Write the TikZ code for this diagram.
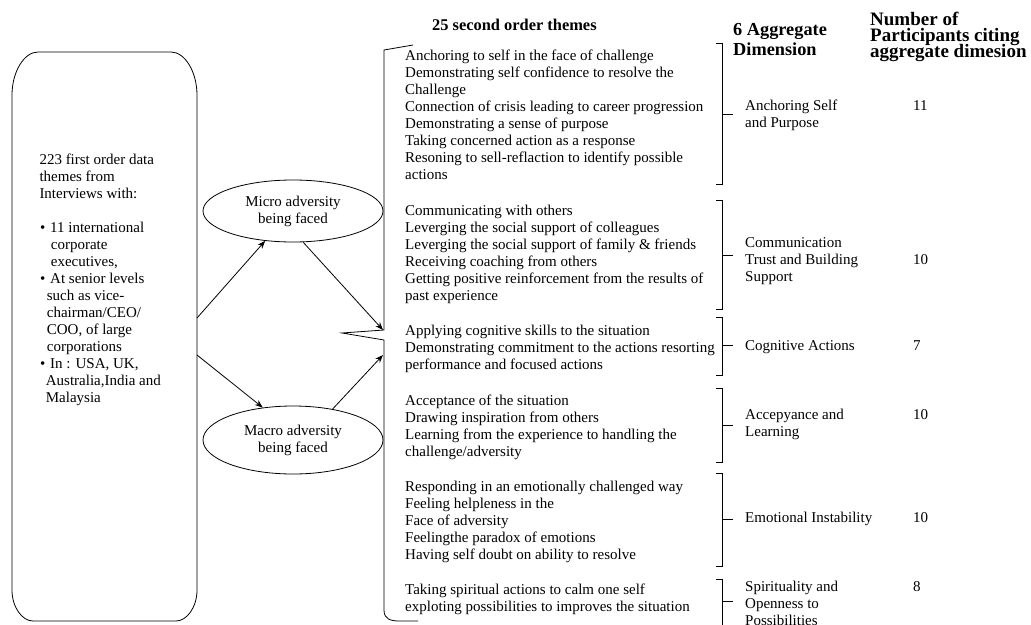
\documentclass[tikz,border=0pt]{standalone}
\usepackage{fontspec}
\setmainfont{Liberation Serif}
\usetikzlibrary{shapes.geometric,arrows.meta}
\newcommand\rightbrk[3]{\draw[line] (716,#1) -- (722,#1) -- (722,#3) -- (716,#3); \draw[line] (722,#2) -- (733,#2);}
\tikzset{
  line/.style={line width=0.8pt},
  body/.style={font=\fontsize{15}{17}\selectfont},
  txt/.style={body, anchor=north west, align=left, inner sep=0pt},
  hdr/.style={anchor=north west, align=left, inner sep=0pt},
  arr/.style={line, -{Stealth[length=8pt,width=6pt]}},
  oval/.style={draw, line, ellipse, minimum width=180pt, minimum height=62pt, inner sep=0pt, body, align=center},
}
\begin{document}
\lineskiplimit=-100pt
\begin{tikzpicture}[x=1pt,y=-1pt]
\useasboundingbox (0,0) rectangle (1031,624);
% left box
\node[minimum width=185pt, minimum height=569pt, inner sep=0pt, outer sep=0pt] (lb) at (104.5,336.5) {};
\draw[line] (lb.north west) ++(0,42) -- (12,590) .. controls (12,607) and (22,621) .. (33,621) -- (176,621) .. controls (187,621) and (197,607) .. (197,590) -- (197,95) .. controls (197,72) and (185,52) .. (171,52) -- (38,52) .. controls (24,52) and (12,72) .. (12,95) -- cycle;
\node[txt] (lbt) at (39.3,152.4) {\strut 223 first order data\\
themes from\\
Interviews with:\\[17pt]
\makebox[10.7pt][l]{\hspace{0.7pt}\textbullet}11 international\\
\hspace*{11.4pt}corporate\\
\hspace*{11.4pt}executives,\\
\makebox[10.7pt][l]{\hspace{0.7pt}\textbullet}At senior levels\\
\hspace*{7.4pt}such as vice-\\
\hspace*{7.4pt}chairman/CEO/\\
\hspace*{7.4pt}COO, of large\\
\hspace*{7.4pt}corporations\\
\makebox[10.7pt][l]{\hspace{0.7pt}\textbullet}In : USA, UK,\\
\hspace*{6.4pt}Australia,India and\\
\hspace*{6.4pt}Malaysia};
% ellipses
\node[oval] (micro) at (293,211) {Micro adversity\\being faced};
\node[oval, minimum height=68pt] (macro) at (293,440) {Macro adversity\\being faced};
% big left bracket
\draw[line] (413,45) -- (384,50) -- (384,330) -- (342,333) -- (384,340) -- (384,610) .. controls (384,619) and (390,621) .. (400,621) -- (418,621);
\coordinate (bin1) at (383,330);
\coordinate (bin2) at (383,355);
% arrows
\draw[arr] ([yshift=18.5pt]lb.east) -- (micro.227);
\draw[arr] ([yshift=-18.5pt]lb.east) -- (macro.133);
\draw[arr] (micro.288) -- (bin1);
\draw[arr] (macro.38) -- (bin2);
% headers
\node[hdr, anchor=base west, font=\bfseries\fontsize{16.4}{18}\selectfont] (h1) at (432,30.7) {25 second order themes};
\node[hdr, font=\bfseries\fontsize{18.3}{20}\selectfont] (h2) at (733,21) {\rule{0pt}{14pt}6 Aggregate\\Dimension};
\node[hdr, font=\bfseries\fontsize{19}{16.3}\selectfont] (h3) at (870,11) {\rule{0pt}{14pt}Number of\\Participants citing\\aggregate dimesion};
% theme groups
\node[txt] (g1) at (405,48.1) {\strut Anchoring to self in the face of challenge\\
Demonstrating self confidence to resolve the\\
Challenge\\
Connection of crisis leading to career progression\\
Demonstrating a sense of purpose\\
Taking concerned action as a response\\
Resoning to sell-reflaction to identify possible\\
actions};
\node[txt] (g2) at (405,203.1) {\strut Communicating with others\\
Leverging the social support of colleagues\\
Leverging the social support of family \& friends\\
Receiving coaching from others\\
Getting positive reinforcement from the results of\\
past experience};
\node[txt] (g3) at (405,323.8) {\strut Applying cognitive skills to the situation\\
Demonstrating commitment to the actions resorting\\
performance and focused actions};
\node[txt] (g4) at (405,393.1) {\strut Acceptance of the situation\\
Drawing inspiration from others\\
Learning from the experience to handling the\\
challenge/adversity};
\node[txt] (g5) at (405,479.1) {\strut Responding in an emotionally challenged way\\
Feeling helpleness in the\\
Face of adversity\\
Feelingthe paradox of emotions\\
Having self doubt on ability to resolve};
\node[txt] (g6) at (405,582.1) {\strut Taking spiritual actions to calm one self\\
exploting possibilities to improves the situation};
% right brackets
\rightbrk{43}{114}{184}
\rightbrk{200}{255}{309}
\rightbrk{317}{345}{375}
\rightbrk{388}{425}{462}
\rightbrk{473}{519}{566}
\rightbrk{579}{601}{640}
% dimensions
\node[txt] (d1) at (745,98.1) {\strut Anchoring Self\\and Purpose};
\node[txt] (d2) at (745,235.4) {\strut Communication\\Trust and Building\\Support};
\node[txt] (d3) at (745,338.1) {\strut Cognitive Actions};
\node[txt] (d4) at (745,407.4) {\strut Accepyance and\\Learning};
\node[txt] (d5) at (745,510.8) {\strut Emotional Instability};
\node[txt] (d6) at (745,579.8) {\strut Spirituality and\\Openness to\\Possibilities};
% numbers
\node[txt] (n1) at (913,98.1) {\strut 11};
\node[txt] (n2) at (913,252.8) {\strut 10};
\node[txt] (n3) at (913,338.1) {\strut 7};
\node[txt] (n4) at (913,407.4) {\strut 10};
\node[txt] (n5) at (913,510.8) {\strut 10};
\node[txt] (n6) at (913,579.8) {\strut 8};
\end{tikzpicture}
\end{document}
